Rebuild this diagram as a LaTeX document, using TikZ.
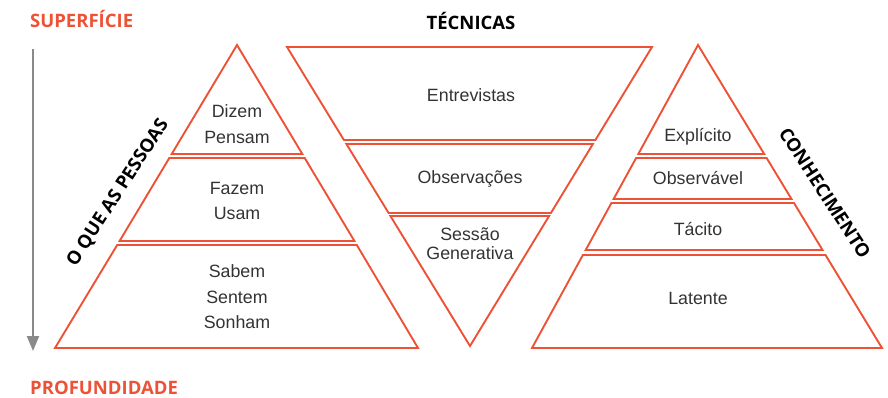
\documentclass[tikz,border=0pt]{standalone}
\usepackage{fontspec}
\usetikzlibrary{arrows.meta}
\newfontfamily\bodyfont{Liberation Sans}
\newfontfamily\lblfont{Open Sans}
\definecolor{accent}{HTML}{EE5236}
\definecolor{txtgray}{HTML}{333333}
\definecolor{arrgray}{HTML}{8A8A8C}
\begin{document}
\begin{tikzpicture}[x=1pt,y=-1pt,
  band/.style={draw=accent, line width=1.9pt, line join=miter},
  body/.style={font=\bodyfont\fontsize{17.8}{25.5}\selectfont, text=txtgray, align=center, inner sep=0pt},
  head/.style={font=\lblfont\bfseries\fontsize{18.5}{20}\selectfont, inner sep=0pt},
  axis/.style={draw=arrgray, line width=2pt, -{Triangle[width=12pt,length=15pt]}}
]
\useasboundingbox (0,0) rectangle (888,398);

% headings
\node[head, text=accent, anchor=west] (sup) at (30,19) {SUPERFÍCIE};
\node[head, text=accent, anchor=west] (prof) at (30,388) {PROFUNDIDADE};
\node[head, text=black] (tec) at (471,21) {TÉCNICAS};

% depth axis
\coordinate (axtop) at (33,49);
\coordinate (axbot) at (33,351);
\draw[axis] (axtop) -- (axbot);

% left pyramid
\draw[band] (237,45) -- (302.3,154) -- (171.7,154) -- cycle;
\draw[band] (169.3,158) -- (304.7,158) -- (354.4,241) -- (119.6,241) -- cycle;
\draw[band] (117.2,245) -- (356.8,245) -- (418,348) -- (55,348) -- cycle;
\node[body] (dizem) at (237,124) {Dizem\\Pensam};
\node[body] (fazem) at (237,201) {Fazem\\Usam};
\node[body] (sabem) at (237,297) {Sabem\\Sentem\\Sonham};
\node[head, text=black, rotate=57] (pessoas) at (118,193) {O QUE AS PESSOAS};

% middle inverted triangle
\draw[band] (287,47) -- (652,47) -- (595.4,140) -- (343.9,140) -- cycle;
\draw[band] (346.4,144) -- (592.9,144) -- (550.9,213) -- (388.6,213) -- cycle;
\draw[band] (390.4,216) -- (549.1,216) -- (470,346) -- cycle;
\node[body] (entre) at (471,95) {Entrevistas};
\node[body] (obs) at (470,179) {Observações};
\node[body, font=\bodyfont\fontsize{17.8}{19}\selectfont] (sessao) at (470,244) {Sessão\\Generativa};

% right pyramid
\draw[band] (698,45) -- (764.2,154) -- (638.3,154) -- cycle;
\draw[band] (636.1,158) -- (766.6,158) -- (791.5,199) -- (613.6,199) -- cycle;
\draw[band] (611.4,203) -- (794.0,203) -- (822.5,250) -- (585.7,250) -- cycle;
\draw[band] (582.9,255) -- (825.5,255) -- (882,348) -- (532,348) -- cycle;
\node[body] (expl) at (698,137) {Explícito};
\node[body] (obsv) at (698,178) {Observável};
\node[body] (tacito) at (698,229) {Tácito};
\node[body] (latente) at (698,298) {Latente};
\node[head, text=black, rotate=-57] (conhec) at (825,193) {CONHECIMENTO};
\end{tikzpicture}
\end{document}
